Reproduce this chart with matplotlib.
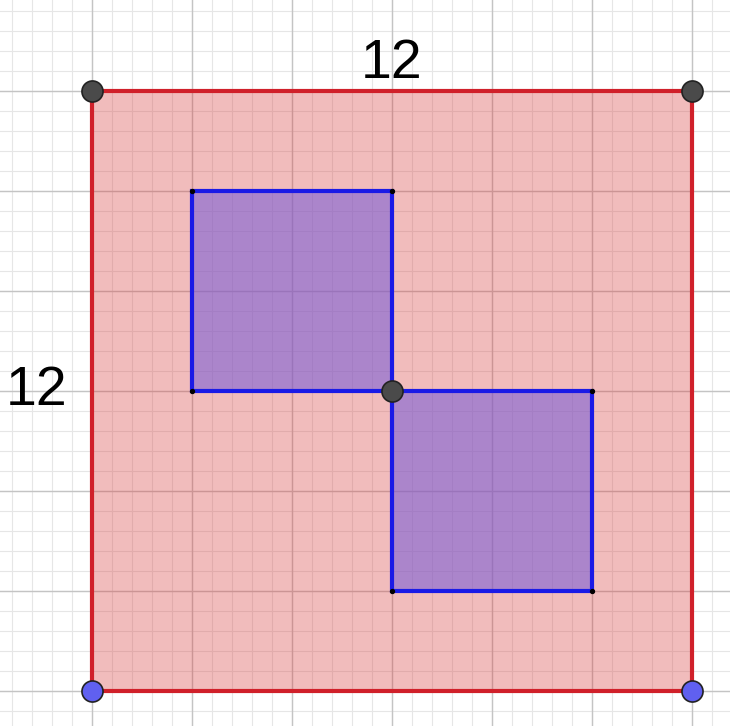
import matplotlib
matplotlib.use("Agg")
import matplotlib.pyplot as plt
import numpy as np
from matplotlib.patches import Polygon

outer = [(0,0),(12,0),(12,12),(0,12)]
sq1 = [(2,6),(6,6),(6,10),(2,10)]
sq2 = [(6,2),(10,2),(10,6),(6,6)]
dark_pts = [(0,12),(12,12),(6,6)]
blue_pts = [(0,0),(12,0)]
labels = [("12", 6, 12.55), ("12", -1.1, 6.0)]

fig = plt.figure(figsize=(7.3,7.26), dpi=100)
ax = fig.add_axes([0,0,1,1])
xmin, xmax = -1.84, 12.76
ymin, ymax = -0.7, 13.82
ax.set_xlim(xmin, xmax); ax.set_ylim(ymin, ymax)
ax.axis('off')
for v in np.arange(-2, 14.01, 0.4):
    ax.axvline(v, color='#e6e6e6', lw=0.8, zorder=0)
    ax.axhline(v, color='#e6e6e6', lw=0.8, zorder=0)
for v in np.arange(-2, 15, 2):
    ax.axvline(v, color='#c4c4c4', lw=1.0, zorder=0)
    ax.axhline(v, color='#c4c4c4', lw=1.0, zorder=0)

ax.add_patch(Polygon(outer, closed=True, facecolor=(0.85,0.25,0.25,0.35), edgecolor='#d0202a', lw=3, zorder=2))
for s in (sq1, sq2):
    ax.add_patch(Polygon(s, closed=True, facecolor=(0.45,0.35,0.85,0.55), edgecolor='#1a1ae6', lw=3, zorder=3))
    xs, ys = zip(*s)
    ax.scatter(xs, ys, s=8, color='black', zorder=4)
xs, ys = zip(*dark_pts)
ax.scatter(xs, ys, s=230, color='#4a4a4a', edgecolor='#222222', lw=1.2, zorder=5)
xs, ys = zip(*blue_pts)
ax.scatter(xs, ys, s=230, color='#6060f0', edgecolor='#222222', lw=1.2, zorder=5)
for t, x, y in labels:
    ax.text(x, y, t, fontsize=40, ha='center', va='center', family='Liberation Sans', zorder=6)
fig.savefig("out.png", dpi=100)
